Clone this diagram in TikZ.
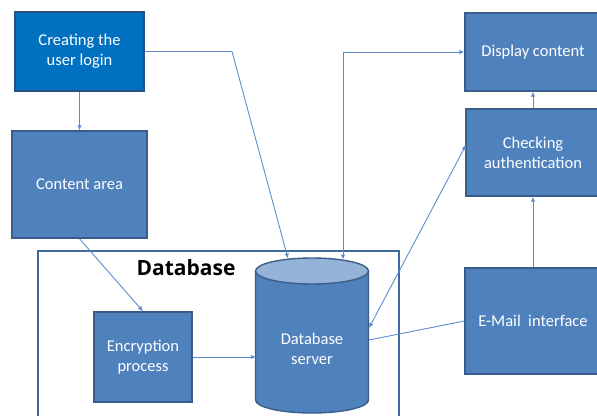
\documentclass[tikz,border=0pt]{standalone}
\usepackage{fontspec}
\setmainfont{Carlito}
\newfontfamily\headfont{Open Sans}
\usetikzlibrary{arrows.meta}
\definecolor{boxfill}{RGB}{79,129,189}
\definecolor{boxedge}{RGB}{56,93,138}
\definecolor{loginfill}{RGB}{0,112,192}
\definecolor{loginedge}{RGB}{40,80,130}
\definecolor{linkcol}{RGB}{91,141,206}
\definecolor{framecol}{RGB}{65,105,160}
\definecolor{captop}{RGB}{149,179,215}
\tikzset{
  tip/.tip={Latex[length=5pt,width=4.5pt]},
  box/.style={draw=boxedge, fill=boxfill, line width=1.4pt, text=white,
    align=center, inner sep=0pt,
    font=\fontsize{16.5}{20}\selectfont},
  link/.style={draw=linkcol, line width=0.9pt},
}
\begin{document}
\begin{tikzpicture}[x=1pt,y=1pt]
\clip (0,0) rectangle (597,-415);

% outer frame of the database group (open at the bottom)
\draw[framecol, line width=1.5pt] (38,-425) -- (38,-251) -- (399,-251) -- (399,-425);
\node[font=\headfont\bfseries\fontsize{21}{25}\selectfont, anchor=base] (dblabel) at (186,-275) {Database};

% database server cylinder
\fill[boxfill, draw=boxedge, line width=1.4pt]
  (255.5,-271) -- (255.5,-400)
  arc[start angle=180, end angle=360, x radius=56.5pt, y radius=13pt]
  -- (368.5,-271) -- cycle;
\draw[boxedge, line width=1.4pt, fill=captop] (312,-271) ellipse[x radius=56.5pt, y radius=13pt];
\node[text=white, align=center, font=\fontsize{16.5}{20}\selectfont] (dbserver) at (312,-349) {Database\\server};
\coordinate (cyltopA) at (288,-258.5);
\coordinate (cyltopB) at (343,-259.5);
\coordinate (cylleft) at (256,-357);
\coordinate (cylrightA) at (369,-328);
\coordinate (cylrightB) at (369,-340);

% process boxes
\node[box, minimum width=129pt, minimum height=79pt, fill=loginfill, draw=loginedge]
  (login) at (79.5,-51.5) {Creating the\\user login};
\node[box, minimum width=135pt, minimum height=107pt] (content) at (79.5,-184.5) {Content area};
\node[box, minimum width=98pt, minimum height=90pt] (encrypt) at (143,-357) {Encryption\\process};
\node[box, minimum width=136pt, minimum height=78pt] (display) at (533,-52) {Display content};
\node[box, minimum width=134pt, minimum height=87pt] (check) at (533,-152.5) {Checking\\authentication};
\node[box, minimum width=136pt, minimum height=106pt] (email) at (533,-321) {E-Mail\ \ interface};
\coordinate (checkin) at (466,-145);
\coordinate (bend) at (232,-51.5);

% connectors
\draw[link, -tip] (login.east) -- (bend) -- (cyltopA);
\draw[link, -tip] (login.south) -- (content.north);
\draw[link, -tip] (content.south) -- (encrypt.north);
\draw[link, -tip] (encrypt.east) -- (cylleft);
\draw[link, tip-tip] (cyltopB) |- (display.west);
\draw[link, tip-tip] (cylrightA) -- (checkin);
\draw[link] (email.west) -- (cylrightB);
\draw[link, -tip] (email.north) -- (check.south);
\draw[link, -tip] (check.north) -- (display.south);
\end{tikzpicture}
\end{document}
